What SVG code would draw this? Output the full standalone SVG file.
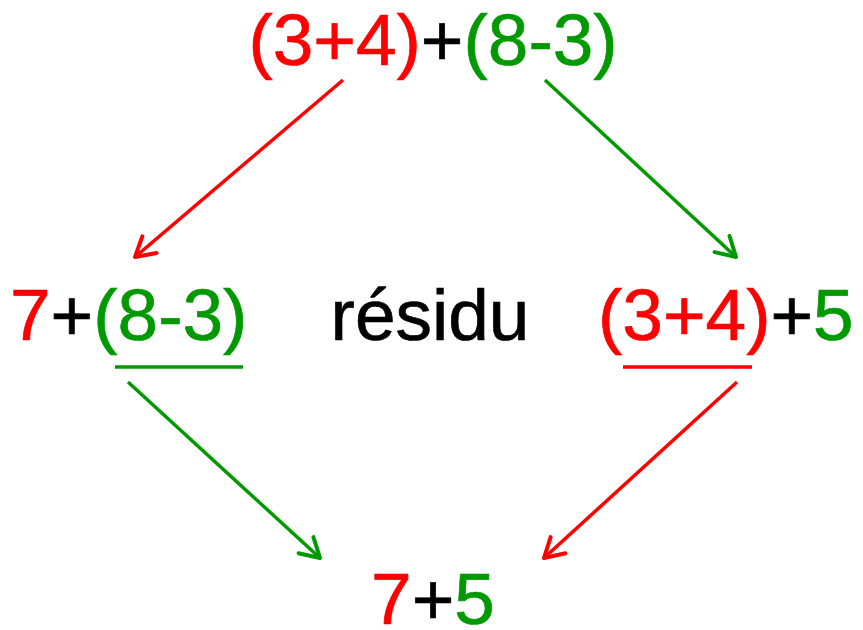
<svg xmlns="http://www.w3.org/2000/svg" width="863" height="630" viewBox="0 0 863 630">
<style>
text{font-family:"Liberation Sans",Arial,sans-serif;font-size:73px;stroke-width:0.7px}
.r{fill:#ff0000;stroke:#ff0000}.g{fill:#009900;stroke:#009900}.k{fill:#000;stroke:#000}
.lr{stroke:#ff0000;stroke-width:3.5;fill:none}
.lg{stroke:#009900;stroke-width:3.5;fill:none}
</style>
<defs>
<marker id="ar" viewBox="0 0 26 26" refX="23" refY="13" markerWidth="26" markerHeight="26" markerUnits="userSpaceOnUse" orient="auto"><path d="M4,2 L23,13 L4,24" fill="none" stroke="#ff0000" stroke-width="4" stroke-linecap="round" stroke-linejoin="round"/></marker>
<marker id="ag" viewBox="0 0 26 26" refX="23" refY="13" markerWidth="26" markerHeight="26" markerUnits="userSpaceOnUse" orient="auto"><path d="M4,2 L23,13 L4,24" fill="none" stroke="#009900" stroke-width="4" stroke-linecap="round" stroke-linejoin="round"/></marker>
</defs>
<rect width="863" height="630" fill="#fff"/>
<g id="top"><text x="433" y="65" text-anchor="middle"><tspan class="r">(3+4)</tspan><tspan class="k">+</tspan><tspan class="g">(8-3)</tspan></text></g>
<g id="left"><text x="10" y="340"><tspan class="r">7</tspan><tspan class="k">+</tspan><tspan class="g">(8-3)</tspan></text><line class="lg" x1="115" y1="367" x2="243" y2="367"/></g>
<g id="residu"><text x="430" y="340" text-anchor="middle" class="k">résidu</text></g>
<g id="right"><text x="598" y="340"><tspan class="r">(3+4)</tspan><tspan class="k">+</tspan><tspan class="g">5</tspan></text><line class="lr" x1="623" y1="367" x2="752" y2="367"/></g>
<g id="bottom"><text x="433" y="624" text-anchor="middle"><tspan class="r">7</tspan><tspan class="k">+</tspan><tspan class="g">5</tspan></text></g>
<g id="connectors">
<line class="lr" x1="343" y1="80" x2="135" y2="257" marker-end="url(#ar)"/>
<line class="lg" x1="545" y1="80" x2="736" y2="257" marker-end="url(#ag)"/>
<line class="lg" x1="128" y1="382" x2="320" y2="558" marker-end="url(#ag)"/>
<line class="lr" x1="737" y1="382" x2="544" y2="558" marker-end="url(#ar)"/>
</g>
</svg>
